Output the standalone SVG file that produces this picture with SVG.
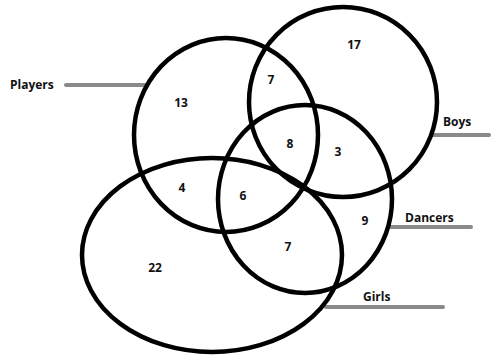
<svg xmlns="http://www.w3.org/2000/svg" width="491" height="356" viewBox="0 0 491 356">
<style>
.set{fill:none;stroke:#000;stroke-width:4.5}
.lead{stroke:#8a8a8a;stroke-width:4;stroke-linecap:round}
.num{font-family:"Open Sans","Liberation Sans",sans-serif;font-weight:bold;font-size:12px;fill:#111;text-anchor:middle}
.lbl{font-family:"Open Sans","Liberation Sans",sans-serif;font-weight:bold;font-size:12px;fill:#111}
</style>
<rect width="491" height="356" fill="#fff"/>
<g id="connectors">
<line class="lead" x1="66" y1="85" x2="146" y2="85"/>
<line class="lead" x1="432" y1="135" x2="489" y2="135"/>
<line class="lead" x1="391" y1="227" x2="471" y2="227"/>
<line class="lead" x1="326" y1="307" x2="443" y2="307"/>
</g>
<g id="players"><ellipse class="set" cx="226" cy="135" rx="92" ry="97"/><text class="lbl" x="10" y="89">Players</text></g>
<g id="boys"><ellipse class="set" cx="343" cy="102" rx="94" ry="95"/><text class="lbl" x="443" y="126">Boys</text></g>
<g id="dancers"><ellipse class="set" cx="305" cy="199" rx="87" ry="94"/><text class="lbl" x="405" y="222">Dancers</text></g>
<g id="girls"><ellipse class="set" cx="212" cy="255" rx="130" ry="97"/><text class="lbl" x="363" y="301">Girls</text></g>
<g id="numbers">
<text class="num" x="354" y="49">17</text>
<text class="num" x="271" y="84">7</text>
<text class="num" x="181" y="107">13</text>
<text class="num" x="290" y="148">8</text>
<text class="num" x="338" y="156">3</text>
<text class="num" x="182" y="192">4</text>
<text class="num" x="243" y="200">6</text>
<text class="num" x="365" y="225">9</text>
<text class="num" x="288" y="251">7</text>
<text class="num" x="155" y="272">22</text>
</g>
</svg>
